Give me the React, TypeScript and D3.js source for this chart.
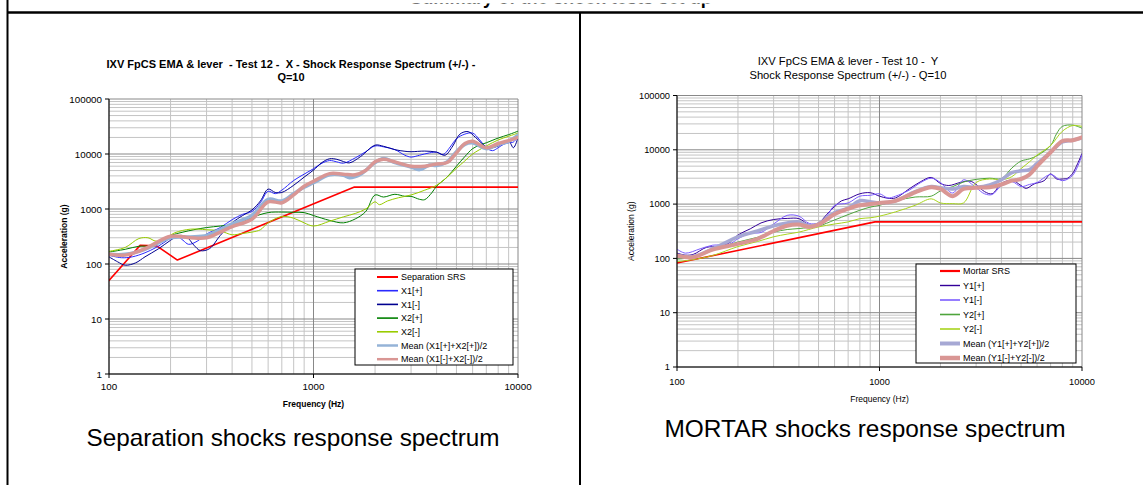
import React from "react";
import * as d3 from "d3";

type Pt = [number, number];

const xTickValues = [100, 1000, 10000];
const yTickValues = [1, 10, 100, 1000, 10000, 100000];

// ---------- Left chart (Separation) ----------
const sepSRS: Pt[] = [[100, 50], [142, 218], [171, 214], [216, 118], [1585, 2500], [10000, 2500]];
const x1Plus: Pt[] = [[100, 144], [115, 130], [130, 135], [150, 160], [170, 200], [190, 260], [200, 300], [215, 320], [230, 270], [245, 228], [270, 260], [300, 350], [350, 460], [400, 640], [450, 800], [500, 900], [550, 1300], [600, 2100], [650, 1900], [700, 2200], [800, 3300], [900, 4300], [1000, 5400], [1100, 6800], [1200, 7600], [1300, 7200], [1400, 6800], [1600, 8500], [1800, 11000], [2000, 14000], [2200, 13500], [2500, 12000], [2800, 9500], [3000, 8800], [3300, 9500], [3700, 10500], [4000, 10800], [4300, 9800], [4700, 14000], [5000, 19000], [5500, 23000], [6000, 24000], [6500, 18000], [7000, 13000], [7500, 11500], [8000, 13000], [8500, 15000], [9000, 16000], [9500, 16500], [10000, 21000]];
const x1Minus: Pt[] = [[100, 135], [110, 110], [120, 95], [135, 105], [150, 135], [175, 190], [200, 270], [220, 330], [240, 310], [260, 220], [280, 175], [310, 190], [350, 330], [400, 560], [450, 760], [500, 960], [550, 1400], [600, 2300], [650, 2000], [700, 2000], [800, 2700], [900, 3800], [1000, 5100], [1100, 7000], [1200, 8200], [1300, 8000], [1400, 7300], [1500, 6900], [1700, 9000], [2000, 14500], [2200, 13800], [2500, 12000], [2800, 11200], [3000, 11000], [3500, 11300], [4000, 10800], [4400, 9500], [4800, 14000], [5200, 23000], [5700, 25500], [6200, 20000], [7000, 13500], [7500, 13000], [8000, 14000], [9000, 17000], [9500, 13000], [10000, 20000]];
const x2Plus: Pt[] = [[100, 165], [120, 185], [140, 210], [160, 215], [180, 270], [200, 330], [230, 380], [260, 420], [300, 460], [350, 490], [400, 520], [450, 580], [500, 700], [600, 860], [700, 880], [800, 870], [900, 860], [1000, 760], [1200, 620], [1400, 560], [1600, 660], [1800, 900], [2000, 1800], [2200, 1650], [2500, 1850], [2800, 1700], [3000, 1700], [3300, 1500], [3500, 1480], [3800, 2000], [4000, 2600], [4500, 3800], [5000, 6000], [5500, 9000], [6000, 12500], [6500, 14500], [7000, 16000], [8000, 19500], [9000, 22500], [10000, 26000]];
const x2Minus: Pt[] = [[100, 170], [120, 200], [140, 290], [155, 300], [170, 260], [190, 300], [210, 370], [250, 430], [300, 420], [350, 400], [400, 340], [450, 360], [500, 380], [550, 420], [600, 560], [700, 730], [800, 680], [900, 560], [1000, 490], [1200, 600], [1400, 720], [1600, 830], [1800, 1000], [2000, 1350], [2100, 1200], [2300, 1400], [2600, 1600], [3000, 1800], [3500, 2200], [4000, 2700], [4500, 3800], [5000, 5500], [5500, 7500], [6000, 10000], [7000, 14000], [8000, 18000], [9000, 21000], [10000, 24000]];
const meanXPlus: Pt[] = [[100, 150], [120, 150], [150, 185], [200, 300], [250, 310], [300, 330], [350, 420], [400, 540], [500, 760], [600, 1500], [700, 1400], [800, 1900], [900, 2500], [1000, 3000], [1200, 4200], [1400, 4100], [1500, 3700], [1700, 4300], [2000, 7000], [2200, 8300], [2500, 7000], [3000, 5800], [3300, 5200], [3700, 6300], [4000, 6200], [4500, 7200], [5000, 11000], [5500, 15000], [6000, 16000], [7000, 12500], [8000, 15000], [9000, 17000], [10000, 22000]];
const meanXMinus: Pt[] = [[100, 150], [120, 145], [150, 190], [200, 320], [250, 300], [300, 300], [350, 380], [400, 480], [500, 650], [600, 1350], [700, 1300], [800, 1800], [900, 2600], [1000, 3200], [1200, 4400], [1400, 4300], [1600, 4200], [1800, 5000], [2000, 7200], [2200, 8000], [2500, 7200], [3000, 6000], [3500, 6000], [4000, 6600], [4500, 7000], [5000, 10500], [5500, 15500], [6000, 17000], [7000, 13000], [8000, 15500], [9000, 17500], [10000, 20000]];

// ---------- Right chart (Mortar) ----------
const mortarSRS: Pt[] = [[100, 82], [950, 470], [10000, 470]];
const y1Plus: Pt[] = [[100, 125], [110, 115], [120, 118], [140, 160], [160, 165], [180, 190], [200, 270], [230, 350], [260, 450], [300, 520], [350, 545], [400, 540], [450, 420], [500, 450], [550, 650], [600, 900], [650, 1150], [700, 1250], [800, 1550], [900, 1620], [1000, 1400], [1100, 1280], [1200, 1300], [1400, 1900], [1600, 2600], [1800, 3100], [2000, 2400], [2200, 2200], [2500, 2500], [2800, 2650], [3000, 2300], [3300, 1700], [3600, 1550], [4000, 2400], [4500, 2750], [5000, 2200], [5300, 1950], [5800, 2350], [6500, 2700], [7000, 3600], [7500, 2900], [8000, 2900], [8500, 3000], [9000, 3700], [9500, 5500], [10000, 8500]];
const y1Minus: Pt[] = [[100, 148], [110, 125], [130, 150], [150, 175], [180, 180], [200, 230], [230, 290], [260, 300], [300, 430], [350, 620], [400, 600], [450, 440], [500, 450], [550, 600], [600, 950], [700, 1050], [800, 1400], [900, 1450], [1000, 1550], [1100, 1300], [1200, 1400], [1400, 1800], [1600, 2500], [1800, 3000], [2000, 2500], [2300, 1600], [2600, 2800], [3000, 2000], [3300, 1550], [3600, 1500], [4000, 2200], [4500, 2600], [5000, 2100], [5500, 2300], [6000, 2500], [7000, 3500], [8000, 2700], [9000, 3400], [10000, 8000]];
const y2Plus: Pt[] = [[100, 97], [120, 105], [150, 140], [200, 200], [250, 245], [300, 305], [350, 340], [400, 355], [500, 395], [600, 510], [700, 640], [800, 770], [900, 880], [1000, 950], [1200, 1150], [1500, 1350], [1800, 1400], [2000, 1750], [2300, 2100], [2600, 2550], [3000, 2850], [3500, 3000], [4000, 2950], [4500, 4600], [5000, 6200], [5500, 6800], [6000, 7800], [7000, 12000], [7500, 20000], [8000, 27000], [9000, 28500], [10000, 25000]];
const y2Minus: Pt[] = [[100, 87], [120, 95], [150, 113], [200, 165], [250, 205], [300, 250], [350, 280], [400, 305], [500, 380], [600, 430], [700, 470], [800, 540], [900, 560], [1000, 600], [1200, 720], [1500, 950], [1800, 1250], [2000, 1050], [2300, 1020], [2600, 1050], [3000, 2500], [3500, 2900], [4000, 2800], [4500, 3200], [5000, 4500], [5500, 6000], [6000, 8000], [7000, 12000], [8000, 22000], [9000, 28000], [10000, 27000]];
const meanYPlus: Pt[] = [[100, 112], [120, 108], [150, 150], [200, 250], [250, 320], [300, 400], [350, 450], [400, 470], [450, 400], [500, 430], [600, 700], [700, 840], [800, 1150], [900, 1100], [1000, 1050], [1200, 1150], [1500, 1700], [1800, 2100], [2000, 2000], [2300, 1900], [2600, 2100], [3000, 2050], [3500, 2250], [4000, 2800], [4500, 3800], [5000, 4100], [5500, 4300], [6000, 5600], [7000, 9000], [8000, 14000], [9000, 15000], [10000, 16500]];
const meanYMinus: Pt[] = [[100, 112], [120, 105], [150, 145], [200, 185], [250, 230], [300, 320], [350, 400], [400, 420], [450, 380], [500, 420], [600, 650], [700, 820], [800, 950], [900, 1000], [1000, 1050], [1200, 1150], [1500, 1650], [1800, 2050], [2000, 1900], [2300, 1400], [2600, 1900], [3000, 2000], [3500, 2050], [4000, 2300], [4500, 2700], [5000, 2900], [5500, 3500], [6000, 5000], [7000, 9000], [8000, 14500], [9000, 15000], [10000, 17000]];

const leftNames = ["Separation SRS", "X1[+]", "X1[-]", "X2[+]", "X2[-]", "Mean (X1[+]+X2[+])/2", "Mean (X1[-]+X2[-])/2"];
const rightNames = ["Mortar SRS", "Y1[+]", "Y1[-]", "Y2[+]", "Y2[-]", "Mean (Y1[+]+Y2[+])/2", "Mean (Y1[-]+Y2[-])/2"];

interface Series { name: string; data: Pt[]; color: string; width: number; smooth: boolean; legendWidth: number; }

const leftSeries: Series[] = [
  { name: leftNames[0], data: sepSRS, color: "#ff0000", width: 1.6, smooth: false, legendWidth: 2 },
  { name: leftNames[1], data: x1Plus, color: "#2a2aff", width: 1, smooth: true, legendWidth: 1.6 },
  { name: leftNames[2], data: x1Minus, color: "#000090", width: 1, smooth: true, legendWidth: 1.6 },
  { name: leftNames[3], data: x2Plus, color: "#008000", width: 1, smooth: true, legendWidth: 1.6 },
  { name: leftNames[4], data: x2Minus, color: "#99cc00", width: 1, smooth: true, legendWidth: 1.6 },
  { name: leftNames[5], data: meanXPlus, color: "#95b3d7", width: 3.5, smooth: true, legendWidth: 2.5 },
  { name: leftNames[6], data: meanXMinus, color: "#d99694", width: 3.5, smooth: true, legendWidth: 2.5 },
];

const rightSeries: Series[] = [
  { name: rightNames[0], data: mortarSRS, color: "#ff0000", width: 1.6, smooth: false, legendWidth: 2.2 },
  { name: rightNames[1], data: y1Plus, color: "#330099", width: 1, smooth: true, legendWidth: 1.4 },
  { name: rightNames[2], data: y1Minus, color: "#7b5cff", width: 1, smooth: true, legendWidth: 1.6 },
  { name: rightNames[3], data: y2Plus, color: "#4ea43c", width: 1, smooth: true, legendWidth: 1.6 },
  { name: rightNames[4], data: y2Minus, color: "#a8d41e", width: 1, smooth: true, legendWidth: 1.6 },
  { name: rightNames[5], data: meanYPlus, color: "#a6a8d4", width: 3.5, smooth: true, legendWidth: 4 },
  { name: rightNames[6], data: meanYMinus, color: "#d99694", width: 4, smooth: true, legendWidth: 4.5 },
];

const FONT = "'Liberation Sans', Arial, Helvetica, sans-serif";

interface ChartProps {
  id: string;
  left: number; right: number; top: number; bottom: number;
  series: Series[];
  title: string[]; titleX: number; titleY: number; titleSize: number; titleBold: boolean; titleGap: number;
  tickSize: number;
  yLabelX: number; yLabelBold: boolean; yLabelSize: number;
  xLabelY: number; xLabelBold: boolean; xLabelSize: number;
  xTickY: number;
  legend: { x: number; y: number; w: number; h: number; firstY: number; step: number; lineX1: number; lineX2: number; textX: number };
}

function Chart(p: ChartProps) {
  const x = d3.scaleLog().domain([100, 10000]).range([p.left, p.right]);
  const y = d3.scaleLog().domain([1, 100000]).range([p.bottom, p.top]);
  const minorX: number[] = [];
  for (const d of [100, 1000]) for (let k = 2; k <= 9; k++) minorX.push(d * k);
  const minorY: number[] = [];
  for (const d of [1, 10, 100, 1000, 10000]) for (let k = 2; k <= 9; k++) minorY.push(d * k);
  const lineSmooth = d3.line<Pt>().x((d) => x(d[0])).y((d) => y(d[1])).curve(d3.curveCatmullRom.alpha(0.5));
  const lineStraight = d3.line<Pt>().x((d) => x(d[0])).y((d) => y(d[1]));
  const L = p.legend;
  return (
    <g>
      <defs>
        <clipPath id={p.id + "clip"}>
          <rect x={p.left} y={p.top} width={p.right - p.left} height={p.bottom - p.top} />
        </clipPath>
      </defs>
      {p.title.map((t, i) => (
        <text key={i} x={p.titleX} y={p.titleY + i * p.titleGap} textAnchor="middle" fontFamily={FONT}
          fontSize={p.titleSize} fontWeight={p.titleBold ? "bold" : "normal"} fill="#000" style={{ whiteSpace: "pre" }}>{t}</text>
      ))}
      {minorY.map((v) => (
        <line key={"my" + v} x1={p.left} x2={p.right} y1={y(v)} y2={y(v)} stroke="#c4c4c4" strokeWidth={1} />
      ))}
      {minorX.map((v) => (
        <line key={"mx" + v} x1={x(v)} x2={x(v)} y1={p.top} y2={p.bottom} stroke="#c4c4c4" strokeWidth={1} />
      ))}
      {yTickValues.map((v) => (
        <line key={"gy" + v} x1={p.left} x2={p.right} y1={y(v)} y2={y(v)} stroke="#888" strokeWidth={1} />
      ))}
      {xTickValues.map((v) => (
        <line key={"gx" + v} x1={x(v)} x2={x(v)} y1={p.top} y2={p.bottom} stroke="#888" strokeWidth={1} />
      ))}
      <g clipPath={`url(#${p.id}clip)`}>
        {p.series.map((s) => (
          <path key={s.name} d={(s.smooth ? lineSmooth : lineStraight)(s.data) || ""} fill="none" stroke={s.color}
            strokeWidth={s.width} strokeLinejoin="round" strokeLinecap="round" />
        ))}
      </g>
      <line x1={p.left} x2={p.left} y1={p.top} y2={p.bottom} stroke="#000" strokeWidth={1} />
      <line x1={p.left} x2={p.right} y1={p.bottom} y2={p.bottom} stroke="#000" strokeWidth={1} />
      {yTickValues.map((v) => (
        <g key={"ty" + v}>
          <line x1={p.left - 4} x2={p.left} y1={y(v)} y2={y(v)} stroke="#000" />
          <text x={p.left - 7} y={y(v) + p.tickSize * 0.36} textAnchor="end" fontFamily={FONT} fontSize={p.tickSize} fill="#000">{v}</text>
        </g>
      ))}
      {xTickValues.map((v) => (
        <g key={"tx" + v}>
          <line x1={x(v)} x2={x(v)} y1={p.bottom} y2={p.bottom + 4} stroke="#000" />
          <text x={x(v)} y={p.xTickY} textAnchor="middle" fontFamily={FONT} fontSize={p.tickSize} fill="#000">{v}</text>
        </g>
      ))}
      <text transform={`translate(${p.yLabelX},${(p.top + p.bottom) / 2}) rotate(-90)`} textAnchor="middle"
        fontFamily={FONT} fontSize={p.yLabelSize} fontWeight={p.yLabelBold ? "bold" : "normal"} fill="#000">Acceleration (g)</text>
      <text x={(p.left + p.right) / 2} y={p.xLabelY} textAnchor="middle" fontFamily={FONT} fontSize={p.xLabelSize}
        fontWeight={p.xLabelBold ? "bold" : "normal"} fill="#000">Frequency (Hz)</text>
      <rect x={L.x} y={L.y} width={L.w} height={L.h} fill="#fff" stroke="#000" strokeWidth={1} />
      {p.series.map((s, i) => (
        <g key={"lg" + i}>
          <line x1={L.lineX1} x2={L.lineX2} y1={L.firstY + i * L.step} y2={L.firstY + i * L.step} stroke={s.color} strokeWidth={s.legendWidth} />
          <text x={L.textX} y={L.firstY + i * L.step + 3.2} fontFamily={FONT} fontSize={9} fill="#000">{s.name}</text>
        </g>
      ))}
    </g>
  );
}

export default function App() {
  return (
    <svg width={1143} height={485} style={{ position: "absolute", left: 0, top: 0, background: "#fff" }}>
      <defs>
        <clipPath id="topclip">
          <rect x={0} y={3.6} width={1143} height={8} />
        </clipPath>
      </defs>
      <rect x={0} y={0} width={1143} height={485} fill="#fff" />
      <g clipPath="url(#topclip)">
        <text x={410} y={4.4} fontFamily={FONT} fontSize={20} fontWeight="bold" fill="#000" textLength={302} lengthAdjust="spacingAndGlyphs">Summary of the shock tests set up</text>
      </g>
      <line x1={7.5} x2={7.5} y1={0} y2={485} stroke="#000" strokeWidth={2} />
      <line x1={7} x2={1143} y1={12.5} y2={12.5} stroke="#000" strokeWidth={2.5} />
      <line x1={580} x2={580} y1={12} y2={485} stroke="#000" strokeWidth={2} />
      <Chart id="L" left={109} right={518} top={99} bottom={374} series={leftSeries}
        title={["IXV FpCS EMA & lever  - Test 12 -  X - Shock Response Spectrum (+/-) -", "Q=10"]}
        titleX={291} titleY={68} titleSize={11} titleBold={true} titleGap={12.5}
        tickSize={9.8}
        yLabelX={67} yLabelBold={true} yLabelSize={8.5}
        xLabelY={407} xLabelBold={true} xLabelSize={8.5} xTickY={390}
        legend={{ x: 355, y: 269, w: 158, h: 96, firstY: 277, step: 13.7, lineX1: 377, lineX2: 398, textX: 401 }} />
      <Chart id="R" left={677} right={1082} top={95.5} bottom={367} series={rightSeries}
        title={["IXV FpCS EMA & lever - Test 10 -  Y", "Shock Response Spectrum (+/-) - Q=10"]}
        titleX={848} titleY={65} titleSize={11.2} titleBold={false} titleGap={13.5}
        tickSize={9.3}
        yLabelX={634} yLabelBold={false} yLabelSize={8.5}
        xLabelY={402} xLabelBold={false} xLabelSize={8.5} xTickY={384.5}
        legend={{ x: 916, y: 264, w: 160, h: 99, firstY: 271, step: 14.5, lineX1: 940, lineX2: 960, textX: 963 }} />
      <text x={293} y={446} textAnchor="middle" fontFamily={FONT} fontSize={24} fill="#000" textLength={413} lengthAdjust="spacingAndGlyphs">Separation shocks response spectrum</text>
      <text x={865} y={437} textAnchor="middle" fontFamily={FONT} fontSize={24} fill="#000" textLength={401} lengthAdjust="spacingAndGlyphs">MORTAR shocks response spectrum</text>
    </svg>
  );
}
